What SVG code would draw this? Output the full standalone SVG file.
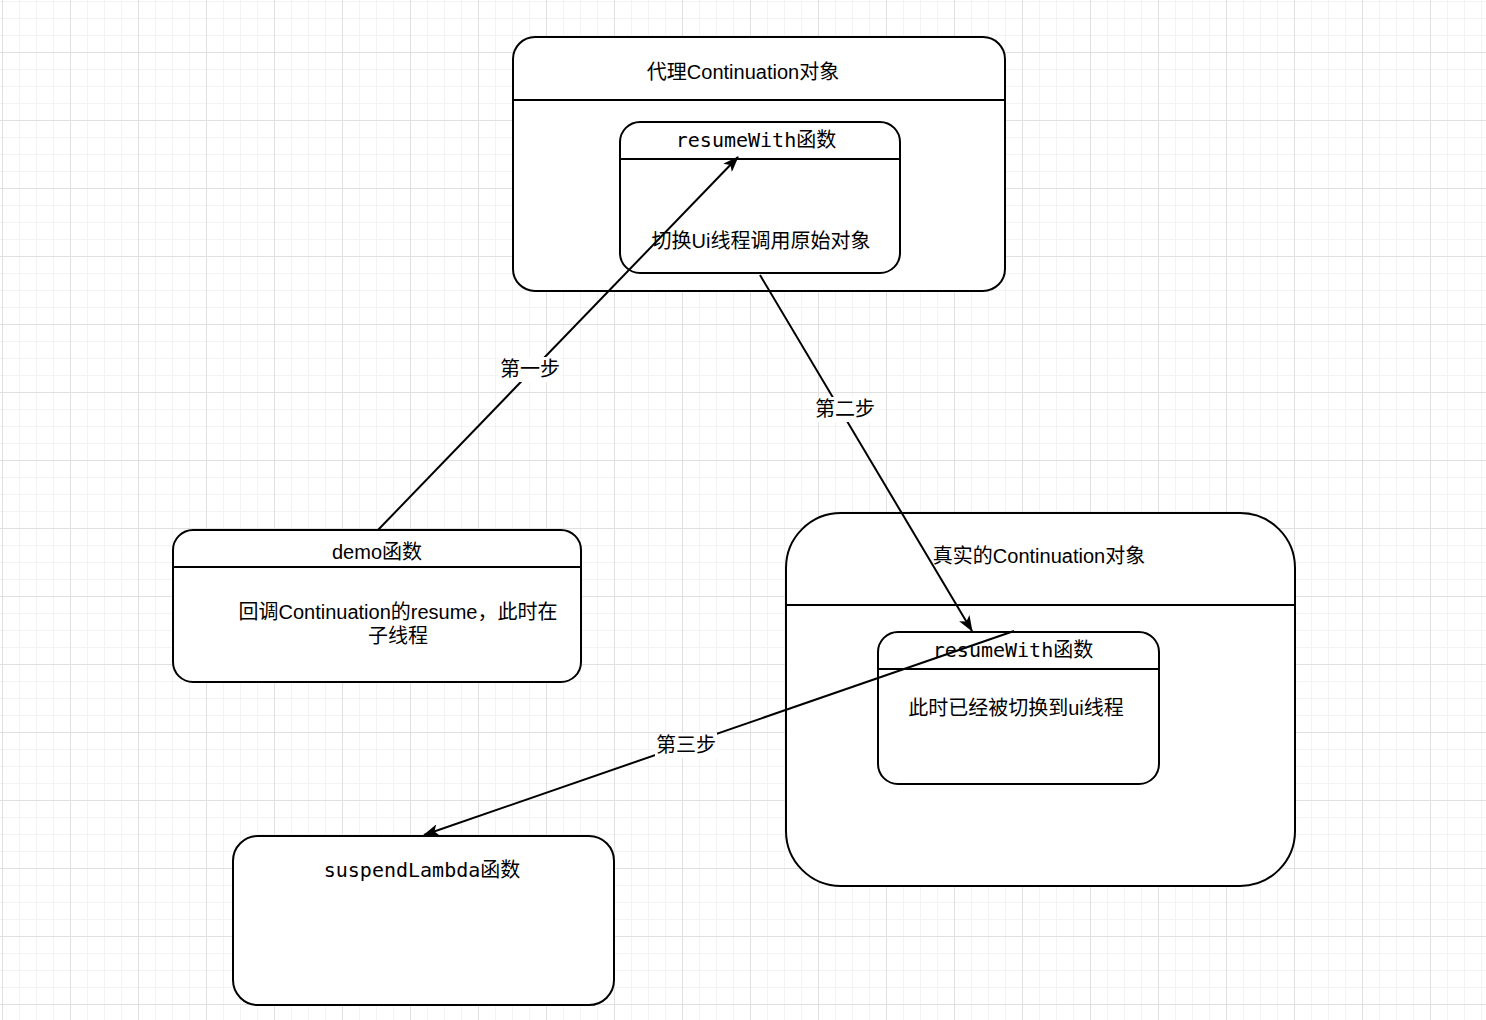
<svg xmlns="http://www.w3.org/2000/svg" width="1486" height="1020" viewBox="0 0 1486 1020">
<defs>
<pattern id="minor" x="2" y="1" width="17" height="17" patternUnits="userSpaceOnUse">
<path d="M0.5,0 V17 M0,0.5 H17" stroke="#f3f3f3" stroke-width="1" fill="none"/>
</pattern>
<pattern id="major" x="2" y="52" width="68" height="68" patternUnits="userSpaceOnUse">
<path d="M0.5,0 V68 M0,0.5 H68" stroke="#e0e0e0" stroke-width="1" fill="none"/>
</pattern>
<marker id="arrow" viewBox="0 0 16 12" refX="15" refY="6" markerWidth="16" markerHeight="12" markerUnits="userSpaceOnUse" orient="auto">
<path d="M0,0 L16,6 L0,12 L4,6 Z" fill="#000"/>
</marker>
<style>
.box{fill:#fff;stroke:#000;stroke-width:2}
.div{stroke:#000;stroke-width:2}
.t{font-family:"Liberation Sans","Noto Sans CJK SC",sans-serif;font-size:20px;fill:#000;text-anchor:middle;dominant-baseline:central}
.m{font-family:"DejaVu Sans Mono","Noto Sans CJK SC",monospace;font-size:20px;fill:#000;text-anchor:middle;dominant-baseline:central}
.edge{stroke:#000;stroke-width:2;fill:none}
.lbg{fill:#fff}
</style>
</defs>
<rect width="1486" height="1020" fill="#fff"/>
<rect width="1486" height="1020" fill="url(#minor)"/>
<rect width="1486" height="1020" fill="url(#major)"/>

<g id="proxy-continuation">
<rect class="box" x="513" y="37" width="492" height="254" rx="22"/>
<line class="div" x1="513" y1="100" x2="1005" y2="100"/>
<text class="t" x="743" y="72">代理Continuation对象</text>
</g>
<g id="proxy-resumeWith">
<rect class="box" x="620" y="122" width="280" height="151" rx="20"/>
<line class="div" x1="620" y1="159" x2="900" y2="159"/>
<text class="m" x="756" y="140">resumeWith函数</text>
<text class="t" x="761" y="241">切换Ui线程调用原始对象</text>
</g>
<g id="demo">
<rect class="box" x="173" y="530" width="408" height="152" rx="20"/>
<line class="div" x1="173" y1="567" x2="581" y2="567"/>
<text class="t" x="377" y="552">demo函数</text>
<text class="t" x="398" y="612">回调Continuation的resume，此时在</text>
<text class="t" x="398" y="636">子线程</text>
</g>
<g id="real-continuation">
<rect class="box" x="786" y="513" width="509" height="373" rx="55"/>
<line class="div" x1="786" y1="605" x2="1295" y2="605"/>
<text class="t" x="1039" y="556">真实的Continuation对象</text>
</g>
<g id="real-resumeWith">
<rect class="box" x="878" y="632" width="281" height="152" rx="20"/>
<line class="div" x1="878" y1="669" x2="1159" y2="669"/>
<text class="m" x="1013" y="650">resumeWith函数</text>
<text class="t" x="1016" y="708">此时已经被切换到ui线程</text>
</g>
<g id="suspendLambda">
<rect class="box" x="233" y="836" width="381" height="169" rx="25"/>
<text class="m" x="422" y="870">suspendLambda函数</text>
</g>

<g id="connectors">
<line class="edge" x1="378" y1="530" x2="738" y2="157" marker-end="url(#arrow)"/>
<line class="edge" x1="760" y1="275" x2="972" y2="631" marker-end="url(#arrow)"/>
<line class="edge" x1="1014" y1="631" x2="424" y2="835" marker-end="url(#arrow)"/>
<rect class="lbg" x="499" y="357" width="62" height="25"/>
<text class="t" x="530" y="369">第一步</text>
<rect class="lbg" x="814" y="397" width="62" height="25"/>
<text class="t" x="845" y="409">第二步</text>
<rect class="lbg" x="655" y="733" width="62" height="25"/>
<text class="t" x="686" y="745">第三步</text>
</g>
</svg>
